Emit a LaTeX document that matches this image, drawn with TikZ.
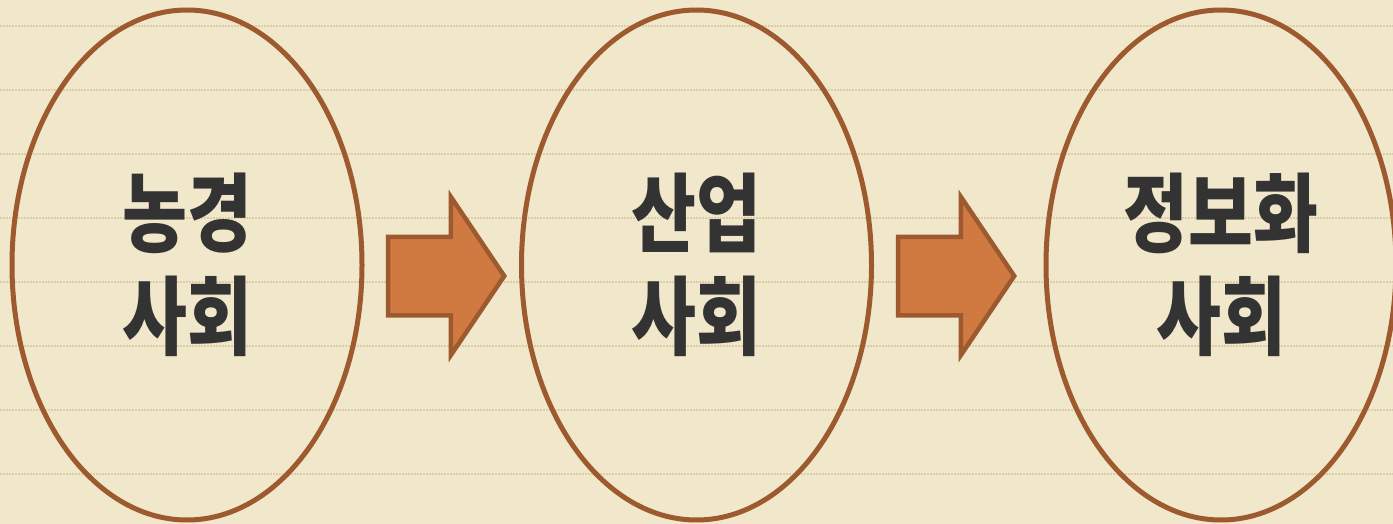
\documentclass[tikz,border=0pt]{standalone}
\usepackage{fontspec}
\newfontfamily\kor{Noto Sans CJK KR Black}[FakeStretch=0.82]
\usetikzlibrary{shapes.geometric,shapes.arrows}
\definecolor{paper}{HTML}{F1E8CB}
\definecolor{rule}{HTML}{DDCCA6}
\definecolor{rim}{HTML}{9C5A2E}
\definecolor{flowfill}{HTML}{D07A42}
\definecolor{ink}{HTML}{333333}
\tikzset{
  society/.style={ellipse, draw=rim, line width=5pt, minimum width=350pt,
    minimum height=510pt, inner sep=0pt, align=center, text=ink,
    font=\kor\fontsize{86}{103}\selectfont},
  flow/.style={single arrow, draw=rim, fill=flowfill, line width=4.5pt,
    minimum height=116pt, inner xsep=0pt, inner ysep=37pt,
    single arrow head extend=40pt, single arrow tip angle=112}
}
\begin{document}
\begin{tikzpicture}[x=1pt,y=-1pt]

  \fill[paper] (0,0) rectangle (1393,524);
  \useasboundingbox (0,0) rectangle (1393,524);

  % ruled paper
  \foreach \y in {26,90,154,218,282,346,410,474}
    \draw[rule, line width=1.5pt, dash pattern=on 1.5pt off 1.5pt] (0,\y) -- (1393,\y);

  \node[society] (farm) at (187,265) {농경\\사회};
  \node[society] (industry) at (696.5,265) {산업\\사회};
  \node[society] (info) at (1221,265) {정보화\\사회};

  \node[flow] (step1) at (433,276) {};
  \node[flow] (step2) at (943,276) {};

\end{tikzpicture}
\end{document}
